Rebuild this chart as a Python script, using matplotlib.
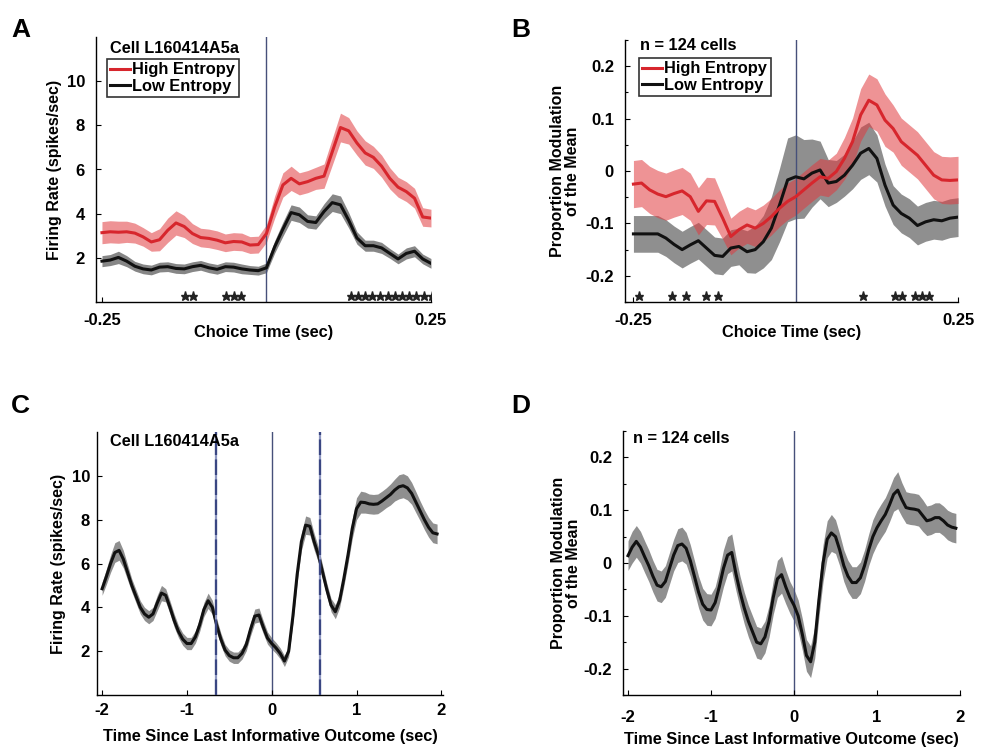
import numpy as np
import matplotlib
matplotlib.use('Agg')
import matplotlib.pyplot as plt
from matplotlib.ticker import MultipleLocator

plt.rcParams['font.family'] = ['Liberation Sans', 'DejaVu Sans']
plt.rcParams['font.weight'] = 'bold'
plt.rcParams['axes.labelweight'] = 'bold'
plt.rcParams['axes.unicode_minus'] = False

# ---------------- data ----------------
t_choice = np.linspace(-0.25, 0.25, 41)

A_high = [3.14, 3.18, 3.16, 3.18, 3.12, 2.95, 2.72, 2.82, 3.25, 3.58,
          3.42, 3.1, 2.92, 2.88, 2.8, 2.68, 2.74, 2.72, 2.58, 2.6,
          3.1, 4.3, 5.3, 5.6, 5.35, 5.45, 5.6, 5.7, 6.8, 7.9,
          7.75, 7.2, 6.75, 6.55, 6.15, 5.6, 5.2, 5.0, 4.7, 3.85, 3.8]
A_high_err = [0.5, 0.5, 0.5, 0.48, 0.45, 0.42, 0.42, 0.5, 0.55, 0.55,
              0.5, 0.45, 0.42, 0.42, 0.42, 0.4, 0.4, 0.4, 0.38, 0.38,
              0.4, 0.5, 0.55, 0.55, 0.5, 0.5, 0.5, 0.55, 0.6, 0.65,
              0.6, 0.55, 0.55, 0.5, 0.5, 0.48, 0.45, 0.45, 0.45, 0.42, 0.4]
A_low = [1.85, 1.9, 2.02, 1.85, 1.62, 1.5, 1.45, 1.58, 1.6, 1.52,
         1.5, 1.6, 1.66, 1.55, 1.48, 1.6, 1.58, 1.5, 1.45, 1.42,
         1.55, 2.5, 3.3, 4.05, 3.95, 3.65, 3.6, 4.1, 4.5, 4.4,
         3.7, 2.9, 2.55, 2.55, 2.45, 2.2, 1.95, 2.2, 2.3, 1.95, 1.75]
A_low_err = [0.25, 0.25, 0.28, 0.25, 0.22, 0.22, 0.22, 0.22, 0.22, 0.22,
             0.22, 0.22, 0.22, 0.22, 0.22, 0.22, 0.22, 0.22, 0.2, 0.2,
             0.22, 0.28, 0.32, 0.35, 0.35, 0.3, 0.3, 0.35, 0.4, 0.4,
             0.35, 0.28, 0.25, 0.25, 0.25, 0.22, 0.22, 0.25, 0.25, 0.22, 0.22]
A_sig = [-0.124, -0.112, -0.062, -0.050, -0.038, 0.128, 0.139, 0.150, 0.161,
         0.173, 0.184, 0.195, 0.206, 0.217, 0.228, 0.240, 0.251]

B_high = [-0.025, -0.023, -0.036, -0.044, -0.049, -0.043, -0.038, -0.049, -0.077, -0.057,
          -0.058, -0.09, -0.125, -0.112, -0.103, -0.109, -0.1, -0.087, -0.071, -0.058,
          -0.049, -0.036, -0.023, -0.011, -0.014, -0.001, 0.024, 0.056, 0.107, 0.135,
          0.126, 0.097, 0.081, 0.056, 0.043, 0.03, 0.011, -0.008, -0.017, -0.018, -0.017]
B_high_err = [0.045, 0.045, 0.045, 0.045, 0.045, 0.045, 0.045, 0.045, 0.045, 0.045,
              0.045, 0.04, 0.035, 0.035, 0.035, 0.035, 0.035, 0.035, 0.035, 0.035,
              0.035, 0.035, 0.035, 0.035, 0.035, 0.035, 0.04, 0.045, 0.05, 0.05,
              0.05, 0.05, 0.045, 0.045, 0.045, 0.045, 0.045, 0.045, 0.045, 0.045, 0.045]
B_low = [-0.12, -0.12, -0.12, -0.12, -0.128, -0.14, -0.15, -0.141, -0.133, -0.147,
         -0.161, -0.163, -0.147, -0.144, -0.154, -0.15, -0.135, -0.109, -0.065, -0.017,
         -0.011, -0.015, -0.004, 0.002, -0.023, -0.02, -0.008, 0.011, 0.034, 0.043,
         0.024, -0.027, -0.065, -0.081, -0.09, -0.104, -0.097, -0.093, -0.095, -0.09, -0.088]
B_low_err = [0.035, 0.035, 0.035, 0.035, 0.035, 0.035, 0.035, 0.035, 0.035, 0.035,
             0.035, 0.035, 0.035, 0.035, 0.04, 0.045, 0.05, 0.06, 0.07, 0.08,
             0.08, 0.075, 0.065, 0.055, 0.045, 0.04, 0.04, 0.045, 0.05, 0.05,
             0.045, 0.04, 0.037, 0.037, 0.037, 0.037, 0.037, 0.037, 0.037, 0.037, 0.037]
B_sig = [-0.241, -0.191, -0.169, -0.138, -0.119, 0.103, 0.153, 0.164, 0.184, 0.195, 0.205]

t_outcome = np.round(np.arange(-2.0, 2.0, 0.05), 2)

C_rate = [4.85, 5.4, 6.0, 6.5, 6.6, 6.2, 5.6, 5.0, 4.5, 4.0,
          3.7, 3.55, 3.7, 4.2, 4.65, 4.55, 4.0, 3.4, 2.9, 2.55,
          2.35, 2.35, 2.65, 3.2, 3.9, 4.3, 4.0, 3.2, 2.55, 2.05,
          1.8, 1.7, 1.7, 1.9, 2.3, 3.0, 3.6, 3.65, 3.1, 2.6,
          2.35, 2.15, 1.9, 1.55, 2.0, 3.6, 5.5, 7.0, 7.75, 7.7,
          7.0, 6.4, 5.6, 4.8, 4.1, 3.8, 4.3, 5.3, 6.4, 7.6,
          8.5, 8.8, 8.78, 8.72, 8.7, 8.72, 8.85, 9.0, 9.15, 9.35,
          9.5, 9.55, 9.45, 9.2, 8.8, 8.4, 8.0, 7.65, 7.4, 7.35]
C_err = [0.3, 0.35, 0.4, 0.45, 0.45, 0.4, 0.35, 0.3, 0.3, 0.3,
         0.3, 0.3, 0.3, 0.35, 0.35, 0.3, 0.3, 0.3, 0.28, 0.28,
         0.28, 0.28, 0.28, 0.3, 0.32, 0.35, 0.32, 0.3, 0.28, 0.26,
         0.26, 0.26, 0.26, 0.26, 0.28, 0.3, 0.32, 0.32, 0.3, 0.28,
         0.26, 0.25, 0.25, 0.25, 0.25, 0.3, 0.35, 0.4, 0.42, 0.4,
         0.38, 0.35, 0.32, 0.3, 0.3, 0.32, 0.32, 0.35, 0.4, 0.45,
         0.5, 0.5, 0.48, 0.45, 0.45, 0.45, 0.45, 0.45, 0.48, 0.5,
         0.55, 0.55, 0.55, 0.5, 0.48, 0.45, 0.45, 0.45, 0.45, 0.45]
C_events = [-0.66, 0.57]

D_mod = [0.014, 0.03, 0.041, 0.03, 0.012, -0.005, -0.025, -0.042, -0.045, -0.035,
         -0.01, 0.015, 0.033, 0.036, 0.028, 0.005, -0.025, -0.055, -0.078, -0.088,
         -0.089, -0.075, -0.045, -0.01, 0.015, 0.02, -0.02, -0.055, -0.085, -0.11,
         -0.13, -0.15, -0.153, -0.14, -0.11, -0.065, -0.03, -0.022, -0.045, -0.065,
         -0.08, -0.1, -0.135, -0.175, -0.187, -0.15, -0.07, 0.0, 0.045, 0.057,
         0.05, 0.025, -0.005, -0.025, -0.037, -0.037, -0.028, -0.005, 0.025, 0.05,
         0.067, 0.08, 0.092, 0.11, 0.13, 0.138, 0.12, 0.105, 0.103, 0.102,
         0.1, 0.09, 0.08, 0.082, 0.086, 0.086, 0.08, 0.072, 0.068, 0.066]
D_err = [0.028, 0.03, 0.03, 0.03, 0.03, 0.03, 0.03, 0.03, 0.03, 0.03,
         0.03, 0.03, 0.032, 0.032, 0.03, 0.03, 0.03, 0.03, 0.03, 0.03,
         0.03, 0.03, 0.032, 0.035, 0.035, 0.035, 0.032, 0.03, 0.03, 0.03,
         0.03, 0.03, 0.03, 0.03, 0.03, 0.032, 0.035, 0.035, 0.032, 0.03,
         0.03, 0.03, 0.03, 0.03, 0.03, 0.03, 0.032, 0.035, 0.035, 0.035,
         0.032, 0.03, 0.03, 0.03, 0.03, 0.03, 0.03, 0.03, 0.03, 0.032,
         0.032, 0.032, 0.032, 0.032, 0.032, 0.035, 0.032, 0.03, 0.03, 0.03,
         0.03, 0.03, 0.028, 0.028, 0.028, 0.028, 0.028, 0.028, 0.028, 0.028]

# ---------------- style ----------------
RED = '#d7262d'
RED_FILL = '#e03a3f'
BLK = '#111111'
GREY_FILL = '#454545'
VCOL = '#46507a'
FS = 11.8      # titles, legend, x labels
TFS = 12       # tick labels
YFS = 11.5     # y labels


def style(ax):
    for s in ['top', 'right']:
        ax.spines[s].set_visible(False)
    for s in ['left', 'bottom']:
        ax.spines[s].set_linewidth(1.0)
    ax.tick_params(which='both', direction='in', width=0.8, labelsize=TFS)
    ax.tick_params(which='major', length=3.5)
    ax.tick_params(which='minor', length=2.5)


def band(ax, t, m, e, lc, fc, falpha, lw=2.2, label=None):
    m = np.asarray(m)
    e = np.asarray(e)
    ax.fill_between(t, m - e, m + e, color=fc, alpha=falpha, lw=0)
    ax.plot(t, m, color=lc, lw=lw, label=label, solid_joinstyle='round')


def legend(ax, anchor):
    h, l = ax.get_legend_handles_labels()
    leg = ax.legend(h[::-1], l[::-1], loc='upper left', bbox_to_anchor=anchor, fontsize=FS,
                    frameon=True, fancybox=False, edgecolor='black', handlelength=1.2,
                    handletextpad=0.15, labelspacing=0.1, borderpad=0.2, borderaxespad=0)
    leg.get_frame().set_linewidth(1.2)


fig = plt.figure(figsize=(9.81, 7.5), dpi=100)
axA = fig.add_axes([0.0979, 0.5973, 0.3414, 0.3534])
axB = fig.add_axes([0.6371, 0.5973, 0.3395, 0.3494])
axC = fig.add_axes([0.0989, 0.0733, 0.3527, 0.3507])
axD = fig.add_axes([0.6351, 0.0733, 0.3435, 0.352])

# ---- A ----
ax = axA
style(ax)
band(ax, t_choice, A_low, A_low_err, BLK, GREY_FILL, 0.65, label='Low Entropy')
band(ax, t_choice, A_high, A_high_err, RED, RED_FILL, 0.55, label='High Entropy')
ax.axvline(0, color=VCOL, lw=1.0, zorder=1)
ax.plot(A_sig, np.full(len(A_sig), 0.28), ls='none', marker='*', ms=6.5, color='#222222')
ax.set_xlim(-0.259, 0.25)
ax.set_ylim(0, 12)
ax.set_xticks([-0.25, 0.25])
ax.set_xticklabels(['-0.25', '0.25'])
ax.set_yticks([2, 4, 6, 8, 10])
ax.tick_params(axis='y', pad=8)
ax.tick_params(axis='x', pad=8)
ax.set_xlabel('Choice Time (sec)', fontsize=FS, labelpad=-2)
ax.set_ylabel('Firing Rate (spikes/sec)', fontsize=YFS, labelpad=3)
ax.text(0.042, 0.958, 'Cell L160414A5a', transform=ax.transAxes, fontsize=FS, va='center', ha='left')
legend(ax, (0.033, 0.917))

# ---- B ----
ax = axB
style(ax)
band(ax, t_choice, B_low, B_low_err, BLK, GREY_FILL, 0.6, label='Low Entropy')
band(ax, t_choice, B_high, B_high_err, RED, RED_FILL, 0.55, label='High Entropy')
ax.axvline(0, color=VCOL, lw=1.0, zorder=1)
ax.plot(B_sig, np.full(len(B_sig), -0.238), ls='none', marker='*', ms=6.5, color='#222222')
ax.set_xlim(-0.263, 0.25)
ax.set_ylim(-0.25, 0.25)
ax.set_xticks([-0.25, 0.25])
ax.set_xticklabels(['-0.25', '0.25'])
ax.set_yticks([-0.2, -0.1, 0, 0.1, 0.2])
ax.set_yticklabels(['-0.2', '-0.1', '0', '0.1', '0.2'])
ax.yaxis.set_minor_locator(MultipleLocator(0.05))
ax.tick_params(axis='y', pad=8)
ax.tick_params(axis='x', pad=8)
ax.set_xlabel('Choice Time (sec)', fontsize=FS, labelpad=-2)
ax.set_ylabel('Proportion Modulation\nof the Mean', fontsize=YFS, labelpad=4, linespacing=1.0)
ax.text(0.045, 0.98, 'n = 124 cells', transform=ax.transAxes, fontsize=FS, va='center', ha='left')
legend(ax, (0.042, 0.931))

# ---- C ----
ax = axC
style(ax)
band(ax, t_outcome, C_rate, C_err, BLK, GREY_FILL, 0.6)
ax.axvline(0, color=VCOL, lw=1.0, zorder=1)
for ev in C_events:
    ax.axvline(ev, color='#8d96c0', lw=1.6, zorder=3)
    ax.axvline(ev, color='#3a4682', lw=1.6, ls=(0, (7, 2)), zorder=3)
ax.set_xlim(-2.06, 2.02)
ax.set_ylim(0, 12)
ax.set_xticks([-2, -1, 0, 1, 2])
ax.set_yticks([2, 4, 6, 8, 10])
ax.tick_params(axis='y', pad=5)
ax.tick_params(axis='x', pad=6)
ax.set_xlabel('Time Since Last Informative Outcome (sec)', fontsize=FS, labelpad=8)
ax.set_ylabel('Firing Rate (spikes/sec)', fontsize=YFS, labelpad=4)
ax.text(0.038, 0.962, 'Cell L160414A5a', transform=ax.transAxes, fontsize=FS, va='center', ha='left')

# ---- D ----
ax = axD
style(ax)
band(ax, t_outcome, D_mod, D_err, BLK, GREY_FILL, 0.6)
ax.axvline(0, color=VCOL, lw=1.0, zorder=1)
ax.set_xlim(-2.06, 2.0)
ax.set_ylim(-0.25, 0.25)
ax.set_xticks([-2, -1, 0, 1, 2])
ax.set_yticks([-0.2, -0.1, 0, 0.1, 0.2])
ax.set_yticklabels(['-0.2', '-0.1', '0', '0.1', '0.2'])
ax.yaxis.set_minor_locator(MultipleLocator(0.05))
ax.tick_params(axis='y', pad=8)
ax.tick_params(axis='x', pad=11)
ax.set_xlabel('Time Since Last Informative Outcome (sec)', fontsize=FS, labelpad=5)
ax.set_ylabel('Proportion Modulation\nof the Mean', fontsize=YFS, labelpad=2, linespacing=1.0)
ax.text(0.03, 0.973, 'n = 124 cells', transform=ax.transAxes, fontsize=FS, va='center', ha='left')

# panel letters
for letter, x, y in [('A', 11, 37), ('B', 511, 37), ('C', 11, 413), ('D', 511, 413)]:
    fig.text(x / 981, 1 - y / 750, letter, fontsize=19, fontweight='bold', ha='left', va='baseline')

fig.savefig('out.png', dpi=100)
